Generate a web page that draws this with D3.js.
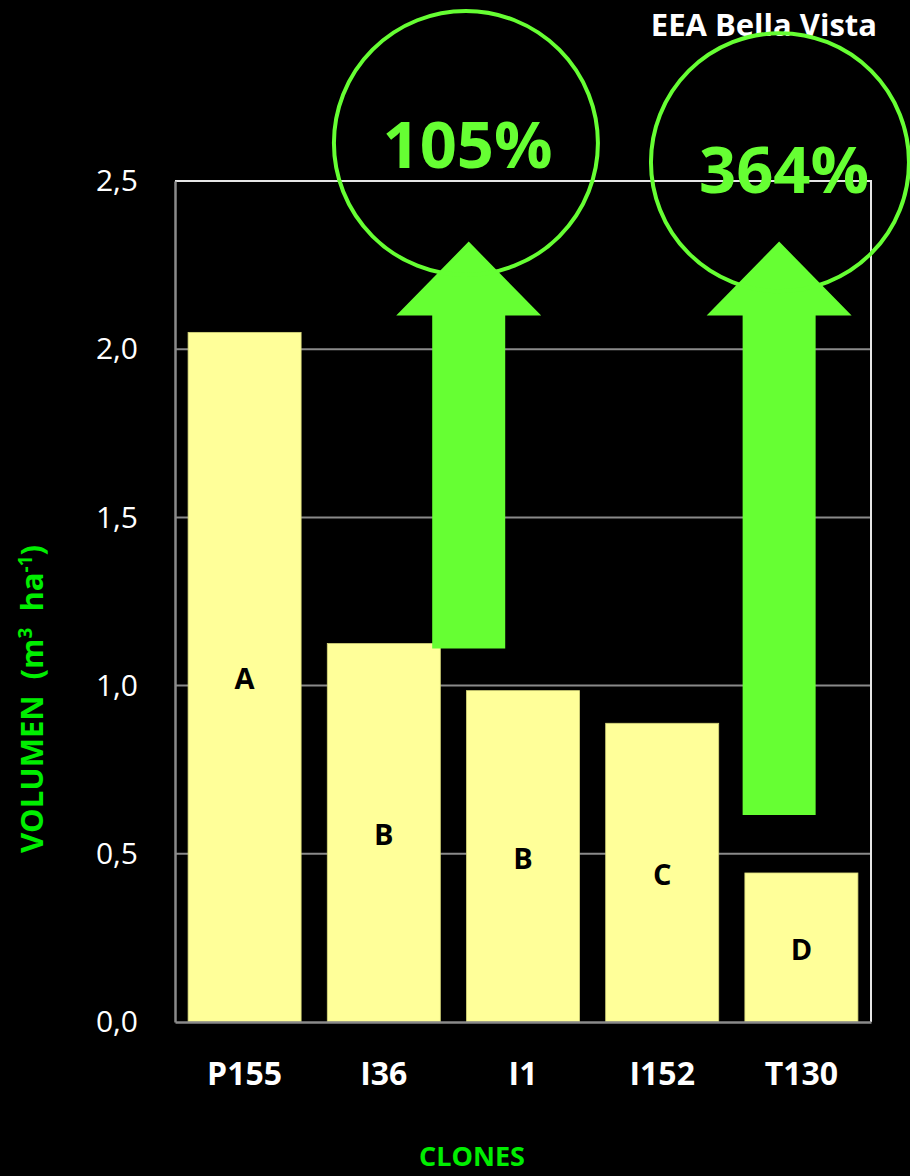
<!DOCTYPE html>
<html>
<head>
<meta charset="utf-8">
<script src="https://cdn.jsdelivr.net/npm/d3@7"></script>
<style>
  html, body { margin: 0; padding: 0; background: #000; }
  svg { display: block; }
</style>
</head>
<body>
<svg id="chart" width="910" height="1176"></svg>
<script>
// Volume per clone
const clones = ["P155", "I36", "I1", "I152", "T130"];
const volumes = [2.05, 1.125, 0.985, 0.888, 0.443];
const groups = ["A", "B", "B", "C", "D"];
const yTicks = [0, 0.5, 1.0, 1.5, 2.0, 2.5];

// Gain annotations: arrow position (category index), arrow base/head/tip in volume units,
// circle centre (category index, volume) and the percentage shown
const gainLabels = ["105%", "364%"];
const gainArrowIndex = [1.61, 3.84];
const gainArrowBase = [1.11, 0.615];
const gainCircleIndex = [1.59, 3.846];
const gainCircleValue = [2.613, 2.556];

const svg = d3.select("#chart");
const W = 910, H = 1176;
const plot = { left: 175, right: 871, top: 181, bottom: 1022 };

const x = d3.scaleBand()
  .domain(clones)
  .range([plot.left, plot.right])
  .paddingInner(0.188)
  .paddingOuter(0.094);

const y = d3.scaleLinear().domain([0, 2.5]).range([plot.bottom, plot.top]);

// fractional category position -> pixel
const step = (plot.right - plot.left) / clones.length;
const xIdx = i => plot.left + (i + 0.5) * step;

svg.append("rect").attr("width", W).attr("height", H).attr("fill", "#000");

const font = "'Open Sans', 'DejaVu Sans', sans-serif";

// gridlines
svg.append("g")
  .selectAll("line")
  .data(yTicks.filter(t => t > 0 && t < 2.5))
  .join("line")
  .attr("x1", plot.left).attr("x2", plot.right)
  .attr("y1", d => y(d)).attr("y2", d => y(d))
  .attr("stroke", "#8a8a8a").attr("stroke-width", 2);

// top and right frame
svg.append("path")
  .attr("d", `M${plot.left},${y(2.5)}H${plot.right}V${plot.bottom}`)
  .attr("fill", "none").attr("stroke", "#e6e6e6").attr("stroke-width", 2);

// bars
svg.append("g")
  .selectAll("rect")
  .data(clones)
  .join("rect")
  .attr("x", d => x(d))
  .attr("width", x.bandwidth())
  .attr("y", (d, i) => y(volumes[i]))
  .attr("height", (d, i) => y(0) - y(volumes[i]))
  .attr("fill", "#ffff99")
  .attr("stroke", "#d6d67a").attr("stroke-width", 0.8);

// group letters at mid-height of each bar
svg.append("g")
  .selectAll("text")
  .data(clones)
  .join("text")
  .attr("x", d => x(d) + x.bandwidth() / 2)
  .attr("y", (d, i) => y(volumes[i] / 2))
  .attr("dy", "0.42em")
  .attr("text-anchor", "middle")
  .attr("font-family", font).attr("font-weight", 700).attr("font-size", 29)
  .attr("fill", "#000")
  .text((d, i) => groups[i]);

// y axis
const yAxis = d3.axisLeft(y)
  .tickValues(yTicks)
  .tickSize(0)
  .tickPadding(37)
  .tickFormat(d => d3.format(".1f")(d).replace(".", ","));
const gy = svg.append("g").attr("transform", `translate(${plot.left},0)`).call(yAxis);
gy.select(".domain").attr("stroke", "#8a8a8a").attr("stroke-width", 2.5);
gy.selectAll("text")
  .attr("fill", "#fff").attr("font-family", font).attr("font-size", 30).attr("font-weight", 400);

// x axis
const xAxis = d3.axisBottom(x).tickSize(0).tickPadding(40);
const gx = svg.append("g").attr("transform", `translate(0,${plot.bottom})`).call(xAxis);
gx.select(".domain").attr("stroke", "#8a8a8a").attr("stroke-width", 2.5);
gx.selectAll("text")
  .attr("fill", "#fff").attr("font-family", font).attr("font-size", 32).attr("font-weight", 700);

// axis titles
svg.append("text")
  .attr("x", 472).attr("y", 1166)
  .attr("text-anchor", "middle")
  .attr("font-family", font).attr("font-weight", 700).attr("font-size", 27)
  .attr("fill", "#00ee00")
  .text("CLONES");

const yTitle = svg.append("text")
  .attr("transform", "translate(43,699) rotate(-90)")
  .attr("text-anchor", "middle")
  .attr("font-family", font).attr("font-weight", 700).attr("font-size", 31)
  .attr("fill", "#00ee00");
yTitle.append("tspan").text("VOLUMEN\u00a0\u00a0(m");
yTitle.append("tspan").attr("font-size", 19).attr("dy", -11).text("3");
yTitle.append("tspan").attr("dy", 11).text("\u00a0\u00a0ha");
yTitle.append("tspan").attr("font-size", 19).attr("dy", -11).text("-1");
yTitle.append("tspan").attr("dy", 11).text(")");

// title
svg.append("text")
  .attr("x", 877).attr("y", 36)
  .attr("text-anchor", "end")
  .attr("font-family", font).attr("font-weight", 700).attr("font-size", 31)
  .attr("fill", "#fff")
  .text("EEA Bella Vista");

// gain arrows
const green = "#66ff33";
const shaftW = 73, headW = 145;
const headBase = 2.10, headTip = 2.32;
svg.append("g")
  .selectAll("path")
  .data(gainLabels)
  .join("path")
  .attr("d", (d, i) => {
    const cx = xIdx(gainArrowIndex[i]);
    const b = y(gainArrowBase[i]), hb = y(headBase), tip = y(headTip);
    return `M${cx - shaftW / 2},${b}V${hb}H${cx - headW / 2}L${cx},${tip}L${cx + headW / 2},${hb}H${cx + shaftW / 2}V${b}Z`;
  })
  .attr("fill", green);

// circles
svg.append("g")
  .selectAll("circle")
  .data(gainLabels)
  .join("circle")
  .attr("cx", (d, i) => xIdx(gainCircleIndex[i]))
  .attr("cy", (d, i) => y(gainCircleValue[i]))
  .attr("r", (d, i) => i === 0 ? 132 : 129)
  .attr("fill", "none")
  .attr("stroke", green).attr("stroke-width", 4);

// percentages
const pctPos = [[467.5, 168], [784, 192.5]];
svg.append("g")
  .selectAll("text")
  .data(gainLabels)
  .join("text")
  .attr("x", (d, i) => pctPos[i][0])
  .attr("y", (d, i) => pctPos[i][1])
  .attr("text-anchor", "middle")
  .attr("font-family", font).attr("font-weight", 700).attr("font-size", 65)
  .attr("fill", green)
  .text(d => d);
</script>
</body>
</html>
